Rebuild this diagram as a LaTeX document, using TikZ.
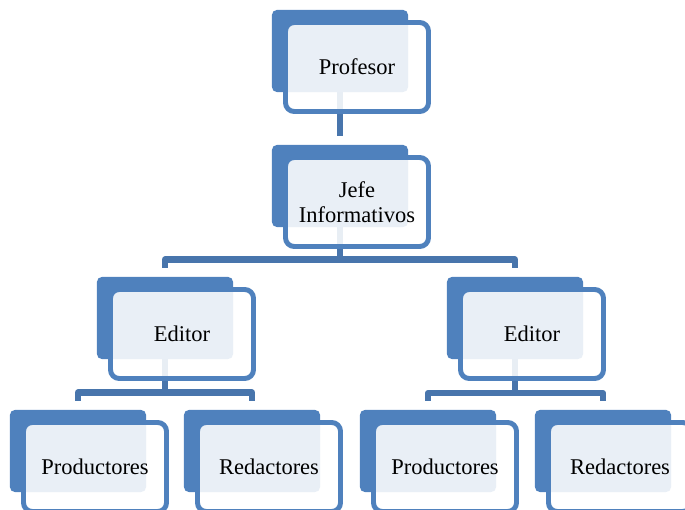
\documentclass[tikz,border=0pt]{standalone}
\usepackage{fontspec}
\setmainfont{Liberation Serif}
\usetikzlibrary{backgrounds}
\definecolor{azul}{RGB}{79,129,189}
\definecolor{azuloscuro}{RGB}{72,117,172}

\begin{document}
\begin{tikzpicture}[
        x=0.025cm, y=-0.025cm,
        fondo/.style={rectangle, rounded corners=0.12cm, fill=azul, minimum width=3.4cm, minimum height=2.05cm, inner sep=0pt},
        caja/.style={rectangle, rounded corners=0.22cm, draw=azul, line width=3.5pt, fill=white, fill opacity=0.88, text opacity=1, minimum width=3.575cm, minimum height=2.225cm, align=center, font=\fontsize{16}{18}\selectfont},
        linea/.style={draw=azuloscuro, line width=4.3pt, line join=round, shorten >=6pt}
    ]
        \useasboundingbox (0,0) rectangle (685,510);

        % Fondos azules
        \node [fondo] (profB) at (340,51) {};
        \node [fondo] (jefeB) at (340,186) {};
        \node [fondo] (edLB) at (165,318) {};
        \node [fondo] (edRB) at (515,318) {};
        \node [fondo] (prodLB) at (78,451) {};
        \node [fondo] (redLB) at (252,451) {};
        \node [fondo] (prodRB) at (428,451) {};
        \node [fondo] (redRB) at (603,451) {};

        % Cajas con texto
        \node [caja] (prof) at ([shift={(17,16)}]profB) {Profesor};
        \node [caja] (jefe) at ([shift={(17,16)}]jefeB) {Jefe\\Informativos};
        \node [caja] (edL) at ([shift={(17,16)}]edLB) {Editor};
        \node [caja] (edR) at ([shift={(17,16)}]edRB) {Editor};
        \node [caja] (prodL) at ([shift={(17,16)}]prodLB) {Productores};
        \node [caja] (redL) at ([shift={(17,16)}]redLB) {Redactores};
        \node [caja] (prodR) at ([shift={(17,16)}]prodRB) {Productores};
        \node [caja] (redR) at ([shift={(17,16)}]redRB) {Redactores};

        % Conectores detras de las cajas
        \coordinate (busJ) at (340,259.5);
        \coordinate (busL) at (165,392.5);
        \coordinate (busR) at (515,393);
        \begin{scope}[on background layer]
            \draw[linea] (profB.south) -- (jefeB.north);
            \draw[linea] (jefeB.south) -- (busJ) -| (edLB.north);
            \draw[linea] (busJ) -| (edRB.north);
            \draw[linea] (edLB.south) -- (busL) -| (prodLB.north);
            \draw[linea] (busL) -| (redLB.north);
            \draw[linea] (edRB.south) -- (busR) -| (prodRB.north);
            \draw[linea] (busR) -| (redRB.north);
        \end{scope}
    \end{tikzpicture}
\end{document}
